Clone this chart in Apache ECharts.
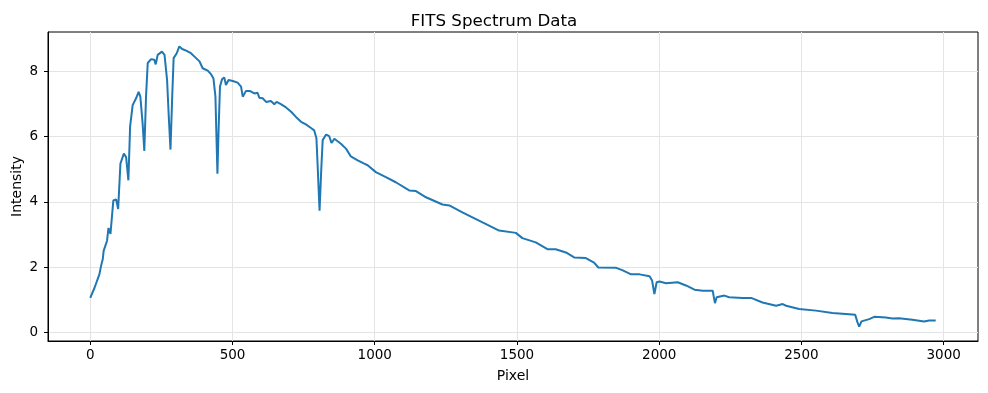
<!DOCTYPE html>
<html>
<head>
<meta charset="utf-8">
<script src="https://cdn.jsdelivr.net/npm/echarts@6/dist/echarts.min.js"></script>
<style>html,body{margin:0;padding:0;background:#fff}#c{width:988px;height:393px}</style>
</head>
<body>
<div id="c"></div>
<script>
const pixel = [0,15,32,38,44,47,53,59,64,71,81,91,98,106,118,126,134,140,149,161,170,176,184,190,196,202,214,225,230,237,252,261,270,276,282,288,293,304,313,323,337,354,372,384,395,413,425,433,440,443,447,451,456,463,471,477,486,501,518,530,536,547,562,577,588,594,606,618,635,647,655,670,688,706,723,741,758,776,787,795,799,806,812,817,829,840,848,858,881,899,916,940,963,975,1004,1039,1074,1121,1145,1180,1238,1262,1308,1379,1437,1443,1496,1519,1566,1607,1636,1672,1701,1742,1771,1786,1849,1872,1901,1931,1966,1975,1983,1991,2001,2024,2065,2094,2124,2153,2188,2191,2196,2202,2229,2246,2293,2323,2363,2411,2434,2446,2492,2551,2609,2656,2689,2697,2703,2711,2718,2738,2756,2797,2820,2843,2890,2931,2949,2972];
const intensity = [1.06,1.37,1.78,2.04,2.25,2.5,2.45,2.81,3.2,3.02,4.04,4.07,3.78,5.17,5.48,5.37,4.66,6.3,6.96,7.17,7.37,7.22,6.4,5.56,7.22,8.25,8.37,8.35,8.21,8.5,8.6,8.5,7.73,6.6,5.6,7.22,8.4,8.55,8.76,8.68,8.63,8.55,8.4,8.3,8.09,8.02,7.9,7.78,7.22,6.19,4.86,6.19,7.53,7.75,7.81,7.58,7.73,7.7,7.65,7.53,7.22,7.39,7.39,7.32,7.34,7.19,7.17,7.06,7.09,6.99,7.06,6.99,6.89,6.76,6.6,6.45,6.37,6.26,6.19,5.95,5.17,3.73,5.0,5.89,6.06,6.01,5.8,5.93,5.78,5.63,5.39,5.27,5.17,5.12,4.91,4.76,4.6,4.35,4.33,4.14,3.92,3.89,3.68,3.37,3.12,3.09,3.05,2.89,2.76,2.55,2.55,2.45,2.3,2.28,2.14,1.99,1.98,1.9,1.78,1.78,1.72,1.59,1.18,1.54,1.56,1.51,1.54,1.44,1.31,1.28,1.28,1.13,0.9,1.08,1.13,1.08,1.06,1.06,0.92,0.82,0.87,0.82,0.72,0.67,0.6,0.57,0.54,0.31,0.18,0.34,0.28,0.41,0.48,0.46,0.43,0.44,0.39,0.34,0.37,0.37];
const xTicks = [0,500,1000,1500,2000,2500,3000];
const yTicks = [0,2,4,6,8];

const font = 'DejaVu Sans';
const chart = echarts.init(document.getElementById('c'), null, {renderer:'canvas'});
chart.setOption({
  animation:false,
  title:{text:'FITS Spectrum Data',left:'center',top:8,textStyle:{fontFamily:font,fontSize:16.7,fontWeight:'normal',color:'#000'}},
  grid:{left:48,right:10,top:32,bottom:52,outerBoundsMode:'none',containLabel:false,show:true,borderColor:'#000',borderWidth:1,backgroundColor:'transparent'},
  xAxis:{type:'value',min:-148.6,max:3120.6,
    name:'Pixel',nameLocation:'middle',nameGap:28,nameMoveOverlap:false,nameTextStyle:{fontFamily:font,fontSize:14,color:'#000'},
    axisLine:{show:true,onZero:false,lineStyle:{color:'#000',width:1}},
    axisTick:{show:true,customValues:xTicks,length:4,lineStyle:{color:'#000'}},
    axisLabel:{customValues:xTicks,margin:7,fontFamily:font,fontSize:13.5,color:'#000',formatter:v=>String(v)},
    splitLine:{show:true,lineStyle:{color:'#e4e4e4',width:1}}},
  yAxis:{type:'value',min:-0.26,max:9.2,
    name:'Intensity',nameLocation:'middle',nameGap:24,nameMoveOverlap:false,nameTextStyle:{fontFamily:font,fontSize:14,color:'#000'},
    axisLine:{show:true,onZero:false,lineStyle:{color:'#000',width:1}},
    axisTick:{show:true,customValues:yTicks,length:4,lineStyle:{color:'#000'}},
    axisLabel:{customValues:yTicks,margin:10,fontFamily:font,fontSize:13.5,color:'#000',formatter:v=>String(v)},
    splitLine:{show:true,lineStyle:{color:'#e4e4e4',width:1}}},
  series:[{type:'line',data:pixel.map((x,i)=>[x,intensity[i]]),showSymbol:false,
    lineStyle:{color:'#1f77b4',width:2},itemStyle:{color:'#1f77b4'}}]
});
</script>
</body>
</html>
